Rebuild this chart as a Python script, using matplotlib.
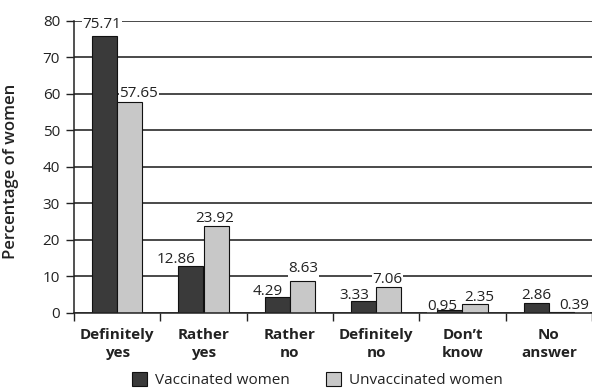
import matplotlib
matplotlib.use("Agg")
import matplotlib.pyplot as plt
import numpy as np

plt.rcParams['font.family'] = ['Open Sans', 'DejaVu Sans']

categories = ["Definitely\nyes", "Rather\nyes", "Rather\nno", "Definitely\nno", "Don’t\nknow", "No\nanswer"]
vaccinated = [75.71, 12.86, 4.29, 3.33, 0.95, 2.86]
unvaccinated = [57.65, 23.92, 8.63, 7.06, 2.35, 0.39]
series_names = ["Vaccinated women", "Unvaccinated women"]
y_ticks = [0, 10, 20, 30, 40, 50, 60, 70, 80]

# label nudges in points (dx, gap above bar top) so neighbouring labels don't collide
vacc_dx = [-2, -10.5, -6.8, -6.5, -5.3, 0]
vacc_dy = [6.2, 2.2, 1.4, 1.4, 0.0, 2.2]
unvacc_dx = [6.5, -0.7, 0.7, -1, 3.4, 9.6]
unvacc_dy = [3.6, 2.7, 6.5, 2.9, 2.2, 1.9]

fig = plt.figure(figsize=(5.92, 3.91), dpi=100)
ax = fig.add_axes([0.125, 0.1995, 0.875, 0.7475])

x = np.arange(len(categories))
w = 0.29
dark = "#3a3a3a"
light = "#c8c8c8"
ink = "#222222"

b1 = ax.bar(x - w / 2, vaccinated, w, color=dark, edgecolor="#111111", linewidth=0.8,
            label=series_names[0], zorder=3)
b2 = ax.bar(x + w / 2, unvaccinated, w, color=light, edgecolor="#111111", linewidth=0.8,
            label=series_names[1], zorder=3)

# value labels sit above the grid but beneath the bars
for bars, vals, dxs, dys in ((b1, vaccinated, vacc_dx, vacc_dy),
                             (b2, unvaccinated, unvacc_dx, unvacc_dy)):
    for rect, v, dx, dy in zip(bars, vals, dxs, dys):
        ax.annotate(f"{v:.2f}", (rect.get_x() + rect.get_width() / 2, v),
                    xytext=(dx, dy), textcoords="offset points",
                    ha="center", va="baseline", fontsize=11, color=ink,
                    bbox=dict(facecolor="white", edgecolor="none", pad=0.4),
                    zorder=2)

ax.set_ylim(0, 80)
ax.set_xlim(-0.5, len(categories) - 0.5)
ax.set_yticks(y_ticks)
ax.tick_params(axis="y", length=6, width=1, pad=4, labelsize=11, colors=ink)

ax.set_xticks(np.arange(-0.5, len(categories), 1.0))
ax.set_xticklabels([])
ax.set_xticks(x, minor=True)
ax.set_xticklabels(categories, minor=True, fontweight="bold", fontsize=11,
                   linespacing=1.35, color=ink)
ax.tick_params(axis="x", which="major", length=5.5, width=1, color=ink)
ax.tick_params(axis="x", which="minor", length=0, pad=11)

ax.yaxis.grid(True, color="#2a2a2a", linewidth=1.2)
ax.set_axisbelow(True)
for s in ("top", "right"):
    ax.spines[s].set_visible(False)
for s in ("left", "bottom"):
    ax.spines[s].set_color(ink)
    ax.spines[s].set_linewidth(1.1)
    ax.spines[s].set_zorder(4)

ax.set_ylabel("Percentage of women", fontsize=12, fontweight="semibold", color=ink)
ax.yaxis.set_label_coords(-0.107, 0.485)

fig.legend(handles=[b1, b2], labels=series_names, loc="center", ncol=2,
           bbox_to_anchor=(0.536, 0.028), frameon=False, fontsize=11,
           handlelength=1.0, handleheight=1.0, handletextpad=0.5, columnspacing=2.4,
           labelcolor=ink)

fig.savefig("out.png", dpi=100)
